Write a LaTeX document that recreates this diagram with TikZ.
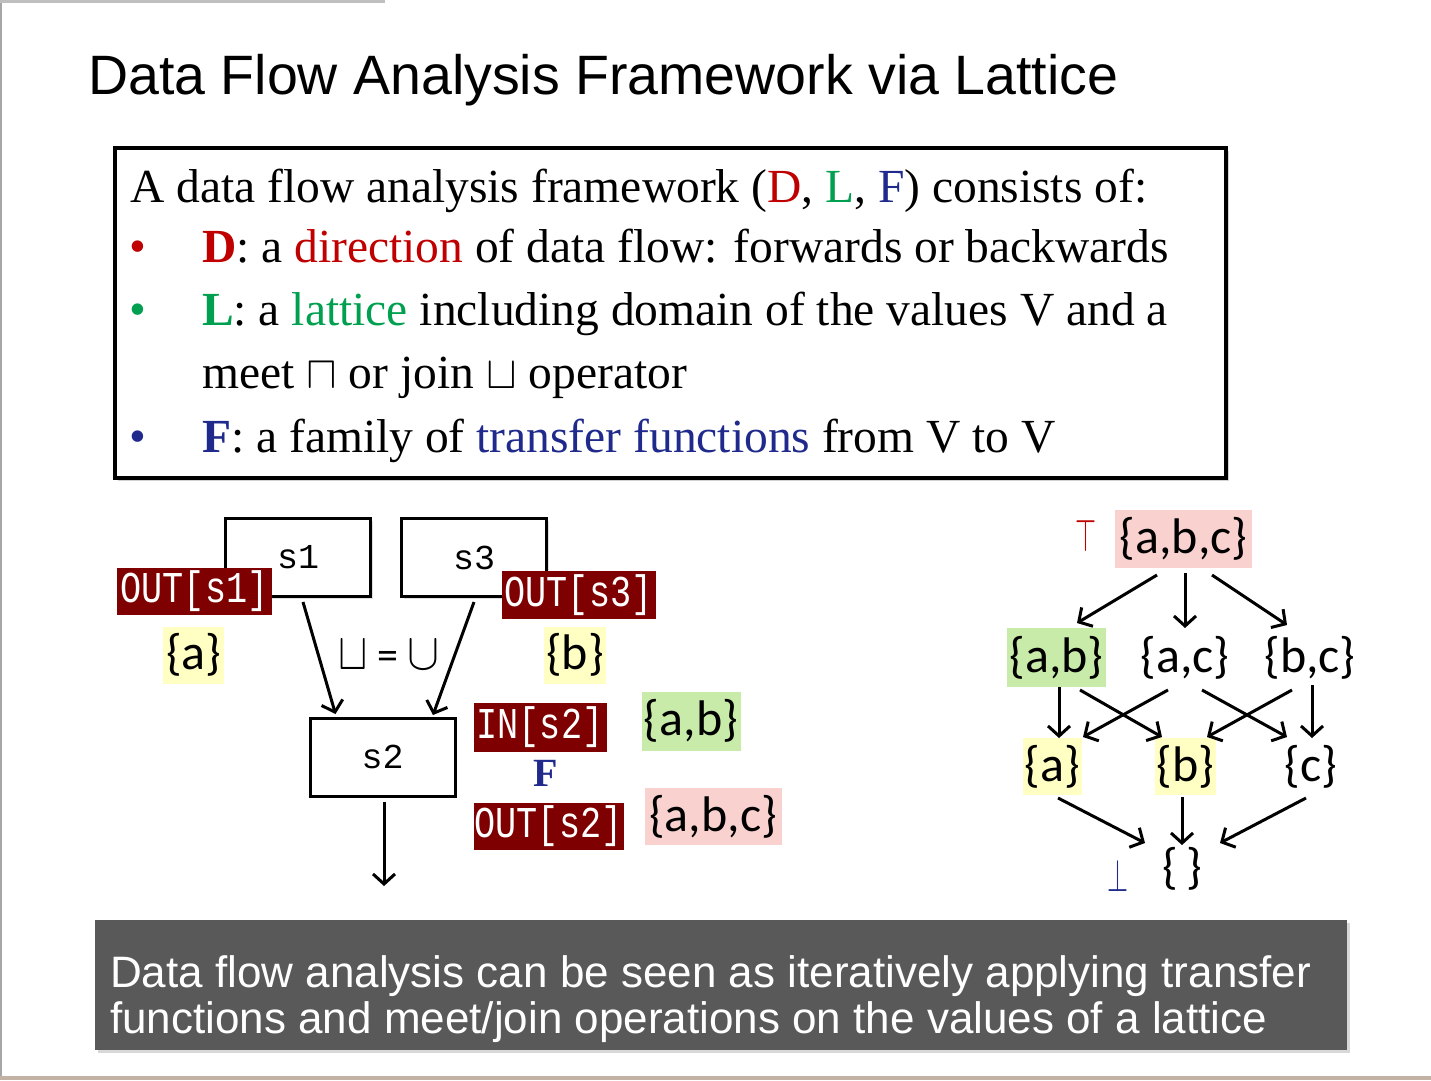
\documentclass[tikz,border=0pt]{standalone}
\usepackage{fontspec}
\setmainfont{Liberation Serif}
\newfontfamily\arialf{Liberation Sans}
\newfontfamily\calf{Carlito}
\newfontfamily\monof[FakeStretch=0.8]{Liberation Mono}
\newfontfamily\monon{Liberation Mono}
\usetikzlibrary{shadows,arrows.meta}
\definecolor{dred}{HTML}{C00000}
\definecolor{dgreen}{HTML}{00A050}
\definecolor{dblue}{HTML}{1F2A8C}
\definecolor{labred}{HTML}{7F0000}
\definecolor{hpink}{HTML}{F9D2D0}
\definecolor{hgreen}{HTML}{C8EBAA}
\definecolor{hyellow}{HTML}{FFFFC4}
\definecolor{bannergray}{HTML}{595959}
\newcommand{\symb}[3]{{\fontsize{10}{12}\selectfont\scalebox{#1}[#2]{\(#3\)}}}
\begin{document}
\begin{tikzpicture}[x=1pt,y=-1pt,
  boxtext/.style={anchor=base west, inner sep=0pt, font=\fontsize{47.5}{56}\selectfont},
  bul/.style={anchor=base west, inner sep=0pt, font=\fontsize{48}{52}\selectfont},
  stmt/.style={draw=black, line width=3pt, fill=white, minimum width=145pt, minimum height=78pt,
     inner sep=0pt, font=\monon\fontsize{35}{38}\selectfont,
     drop shadow={opacity=0.25, shadow xshift=2pt, shadow yshift=-2pt}},
  lab/.style={fill=labred, text=white, inner sep=0pt, font=\monof\fontsize{44}{48}\selectfont},
  setv/.style={inner sep=0pt, font=\calf\fontsize{50}{54}\selectfont},
  arr/.style={line width=3pt, -{Straight Barb[length=10pt,width=22pt]}},
]
\useasboundingbox (0,0) rectangle (1431,1080);
\fill[white] (0,0) rectangle (1431,1080);
% page edges
\draw[gray!70, line width=2pt] (1,0) -- (1,1077);
\draw[brown!40!gray!60, line width=4pt] (0,1078) -- (1431,1078);
\draw[gray!50, line width=3pt] (0,1.5) -- (385,1.5);

% title
\node[anchor=base west, inner sep=0pt, font=\arialf\fontsize{55.5}{60}\selectfont] (title) at (88,94)
  {Data Flow Analysis Framework via Lattice};

% framework box
\node[draw=black, line width=4.5pt, fill=white, minimum width=1111pt, minimum height=330pt, inner sep=0pt,
  drop shadow={opacity=0.35, shadow xshift=3pt, shadow yshift=-3pt}] (frame) at (670.5,313) {};
\node[boxtext] (l1) at (130,202) {A data flow analysis framework ({\color{dred}D}, {\color{dgreen}L}, {\color{dblue}F}) consists of:};
\node[bul, text=dred] (b1) at (129,262) {\textbullet};
\node[boxtext] (l2) at (202,262) {{\color{dred}\textbf{D}}: a {\color{dred}direction} of data flow: forwards or backwards};
\node[bul, text=dgreen] (b2) at (129,325) {\textbullet};
\node[boxtext] (l3) at (202,325) {{\color{dgreen}\textbf{L}}: a {\color{dgreen}lattice} including domain of the values V and a};
\node[boxtext] (l4) at (202,388) {meet \symb{4.6}{4.6}{\sqcap} or join \symb{4.6}{4.6}{\sqcup} operator};
\node[bul, text=dblue] (b3) at (129,452) {\textbullet};
\node[boxtext] (l5) at (202,452) {{\color{dblue}\textbf{F}}: a family of {\color{dblue}transfer functions} from V to V};

% CFG
\node[stmt] (s1) at (298,557.5) {s1};
\node[stmt] (s3) at (474,557.5) {s3};
\node[stmt] (s2) at (382.5,757) {s2};
\node[lab, minimum width=155pt, minimum height=47pt] (o1) at (194.5,591.5) {OUT[s1]};
\node[lab, minimum width=154pt, minimum height=48pt] (o3) at (578.5,595) {OUT[s3]};
\node[lab, minimum width=133pt, minimum height=49pt] (i2) at (540,727.5) {IN[s2]};
\node[lab, minimum width=150pt, minimum height=47pt] (o2) at (548.5,826) {OUT[s2]};
\node[setv, fill=hyellow, minimum width=61pt, minimum height=57pt] (va) at (193.8,655) {\{a\}};
\node[setv, fill=hyellow, minimum width=62pt, minimum height=57pt] (vb) at (575,655) {\{b\}};
\node[setv, fill=hgreen, minimum width=99pt, minimum height=59pt] (vin) at (691,721) {\{a,b\}};
\node[setv, fill=hpink, minimum width=137pt, minimum height=57pt] (vout) at (713,816.5) {\{a,b,c\}};
\node[inner sep=0pt, font=\calf\fontsize{42}{44}\selectfont] (join) at (389,655)
  {\symb{4.4}{5.2}{\sqcup} = \symb{4.8}{5.2}{\cup}};
\node[inner sep=0pt, text=dblue, font=\bfseries\fontsize{40}{44}\selectfont] (F) at (546,773) {F};
\coordinate (exit) at (384,886);
\draw[arr] ([shift={(5,44.5)}]s1.center) -- ([shift={(-47,-43)}]s2.center);
\draw[arr] ([shift={(0,44.5)}]s3.center) -- ([shift={(50.5,-42)}]s2.center);
\draw[arr] ([shift={(1.5,45)}]s2.center) -- (exit);

% lattice
\node[setv, fill=hpink, minimum width=137pt, minimum height=58pt] (abc) at (1183.5,539) {\{a,b,c\}};
\node[inner sep=0pt, text=dred] (top) at (1086,536) {\symb{2.7}{4.6}{\top}};
\node[setv, fill=hgreen, minimum width=99pt, minimum height=59pt] (ab) at (1056.5,657.5) {\{a,b\}};
\node[setv, minimum width=99pt, minimum height=59pt] (ac) at (1185,657.5) {\{a,c\}};
\node[setv, minimum width=99pt, minimum height=59pt] (bc) at (1310,657.5) {\{b,c\}};
\node[setv, fill=hyellow, minimum width=59pt, minimum height=57pt] (a) at (1052.5,766.5) {\{a\}};
\node[setv, fill=hyellow, minimum width=61pt, minimum height=57pt] (b) at (1185.5,766.5) {\{b\}};
\node[setv, minimum width=59pt, minimum height=57pt] (c) at (1311,766.5) {\{c\}};
\node[setv] (e) at (1182,869) {\{\,\}};
\node[inner sep=0pt, text=dblue] (bot) at (1117.5,876) {\symb{2.7}{4.6}{\bot}};
\draw[arr] ([shift={(-26.5,36)}]abc.center) -- ([shift={(20.5,-34.5)}]ab.center);
\draw[arr] ([shift={(1.5,34)}]abc.center) -- ([shift={(0,-29.5)}]ac.center);
\draw[arr] ([shift={(28.5,36)}]abc.center) -- ([shift={(-23,-32.5)}]bc.center);
\draw[arr] ([shift={(2.5,29.5)}]ab.center) -- ([shift={(6.5,-28.5)}]a.center);
\draw[arr] ([shift={(23.5,32.5)}]ab.center) -- ([shift={(-23.5,-29.5)}]b.center);
\draw[arr] ([shift={(-17,32.5)}]ac.center) -- ([shift={(30.5,-29.5)}]a.center);
\draw[arr] ([shift={(17,32.5)}]ac.center) -- ([shift={(-24,-29.5)}]c.center);
\draw[arr] ([shift={(-18,32.5)}]bc.center) -- ([shift={(21.5,-29.5)}]b.center);
\draw[arr] ([shift={(2,27.5)}]bc.center) -- ([shift={(1,-28.5)}]c.center);
\draw[arr] ([shift={(5.5,31.5)}]a.center) -- ([shift={(-37,-26)}]e.center);
\draw[arr] ([shift={(-3.5,30.5)}]b.center) -- ([shift={(0,-24)}]e.center);
\draw[arr] ([shift={(-5,31.5)}]c.center) -- ([shift={(38,-26)}]e.center);

% banner
\node[fill=bannergray, minimum width=1252pt, minimum height=130pt, inner sep=0pt,
  drop shadow={opacity=0.3, shadow xshift=3pt, shadow yshift=-3pt}] (banner) at (721,985) {};
\node[anchor=base west, inner sep=0pt, text=white, font=\arialf\fontsize{44}{48}\selectfont] (t1) at (110,987)
  {Data flow analysis can be seen as iteratively applying transfer};
\node[anchor=base west, inner sep=0pt, text=white, font=\arialf\fontsize{44}{48}\selectfont] (t2) at (110,1033)
  {functions and meet/join operations on the values of a lattice};
\end{tikzpicture}
\end{document}
